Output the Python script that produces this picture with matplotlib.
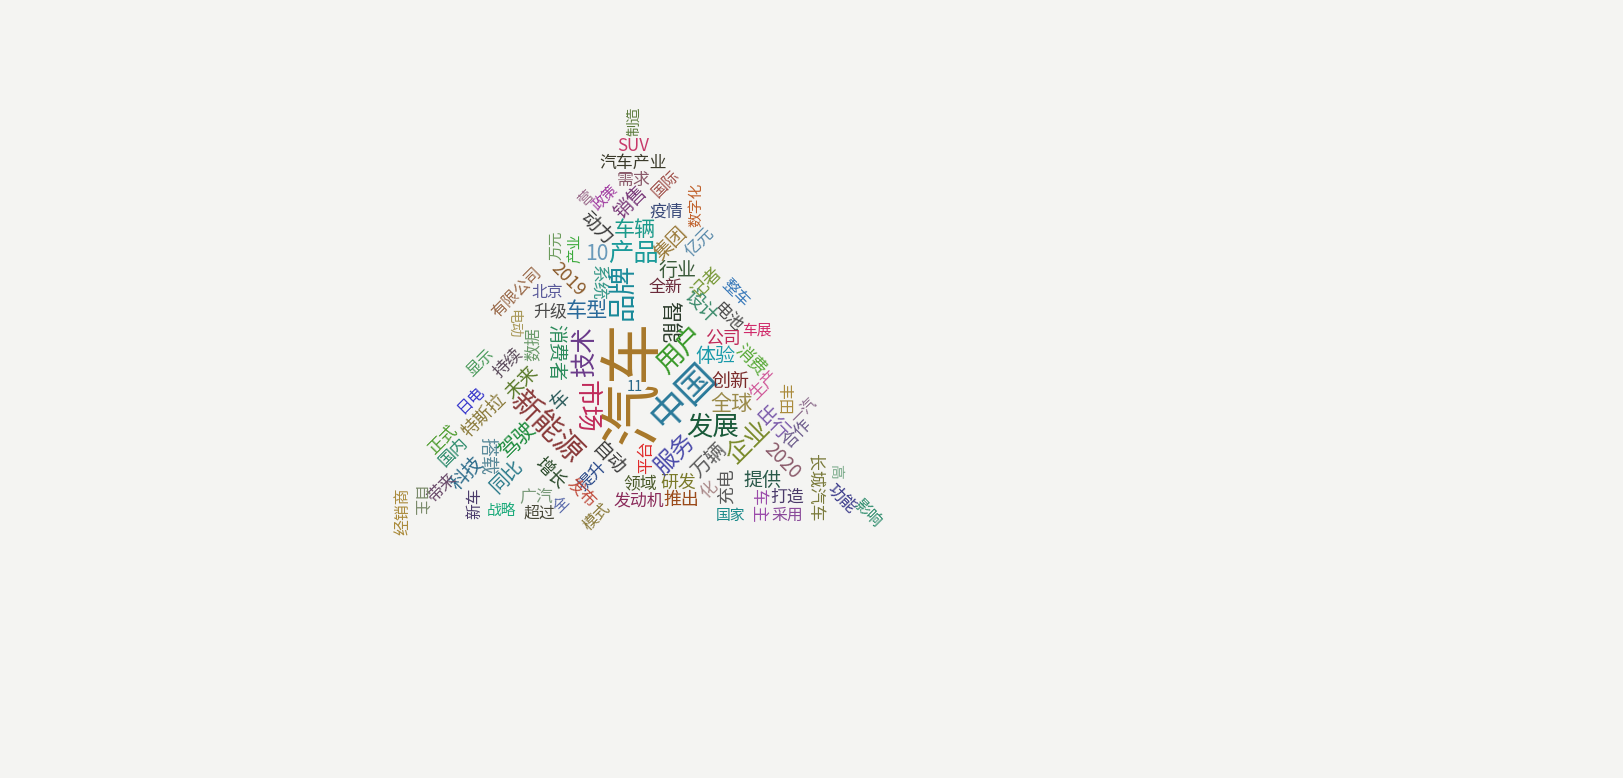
import matplotlib
matplotlib.use("Agg")
import matplotlib.pyplot as plt

plt.rcParams['font.family'] = ['Noto Sans CJK SC', 'DejaVu Sans']

# word cloud data: words and their weights (rendered glyph size in px)
words = ["制造", "SUV", "汽车产业", "需求", "国际", "数字化", "疫情", "销售", "政策", "营",
         "动力", "车辆", "集团", "亿元", "万元", "产业", "10", "产品", "2019", "系统",
         "品牌", "行业", "全新", "记者", "整车", "有限公司", "北京", "升级", "车型", "智能",
         "设计", "电池", "车展", "公司", "体验", "消费", "用户", "汽车", "11", "中国",
         "发展", "创新", "全球", "生产", "丰田", "一汽", "出行", "合作", "企业", "2020",
         "万辆", "长城汽车", "高", "功能", "影响", "打造", "采用", "车主", "提供", "国家",
         "充电", "化", "研发", "推出", "发动机", "领域", "平台", "服务", "自动", "提升",
         "发布", "模式", "增长", "全", "广汽", "超过", "战略", "新车", "同比", "科技",
         "带来", "自主", "经销商", "国内", "正式", "搭载", "驾驶", "新能源", "市场", "技术",
         "消费者", "数据", "电动", "持续", "显示", "未来", "车", "日电", "特斯拉"]
weights = [14, 16, 16, 16, 15, 14, 16, 18, 14, 14,
           18, 20, 18, 16, 14, 14, 20, 24, 17, 17,
           27, 18, 16, 17, 15, 15, 15, 16, 20, 20,
           18, 16, 14, 17, 19, 17, 26, 59, 14, 36,
           25, 18, 20, 16, 15, 14, 18, 16, 24, 18,
           19, 16, 14, 16, 15, 16, 15, 16, 18, 14,
           17, 16, 17, 17, 16, 16, 16, 22, 18, 16,
           16, 15, 17, 15, 16, 15, 14, 15, 18, 18,
           16, 15, 15, 16, 16, 18, 20, 28, 25, 24,
           18, 16, 14, 16, 15, 18, 18, 15, 17]

# layout produced by the cloud (pixel position, rotation, colour)
layout_x = [634, 633, 633, 634, 666, 696, 666, 630, 605, 586,
            597, 635, 671, 700, 556, 575, 597, 633, 568, 598,
            624, 678, 665, 707, 735, 517, 547, 550, 587, 669,
            701, 728, 757, 723, 715, 751, 680, 634, 635, 684,
            713, 730, 732, 764, 784, 804, 772, 797, 748, 782,
            709, 815, 835, 842, 867, 787, 787, 758, 762, 731,
            727, 709, 678, 681, 639, 640, 646, 674, 609, 592,
            582, 597, 550, 561, 536, 539, 502, 475, 507, 467,
            442, 418, 403, 453, 443, 487, 517, 546, 586, 585,
            556, 533, 513, 508, 481, 521, 560, 471, 484]
layout_y = [121, 146, 163, 180, 184, 205, 212, 202, 198, 198,
            229, 230, 243, 243, 245, 248, 254, 254, 280, 283,
            291, 270, 287, 283, 293, 292, 292, 311, 311, 322,
            306, 318, 331, 339, 356, 360, 350, 382, 387, 397,
            427, 381, 404, 385, 399, 411, 423, 434, 442, 461,
            461, 488, 471, 499, 513, 497, 515, 506, 480, 516,
            486, 490, 483, 500, 500, 483, 457, 454, 459, 476,
            492, 517, 473, 504, 497, 513, 511, 503, 476, 473,
            488, 502, 511, 452, 440, 456, 440, 428, 406, 352,
            352, 344, 324, 362, 363, 382, 400, 400, 416]
layout_rot = [90, 0, 0, 0, 45, 90, 0, 45, 45, 45,
              -45, 0, 45, 45, 90, 90, 0, 0, -45, -90,
              90, 0, 0, 45, -45, 45, 0, 0, 0, -90,
              -45, -45, 0, 0, 0, -45, 45, 90, 0, 45,
              0, 0, 0, 45, -90, 45, -45, 45, 45, -45,
              45, -90, -90, -45, -45, 0, 0, -90, 0, 0,
              90, 45, 0, 0, 0, 0, 90, 45, -45, 45,
              -45, 45, -45, 45, 0, 0, 0, 90, 45, 45,
              45, -90, 90, 45, 45, -90, 45, -45, -90, 90,
              -90, 90, -90, 45, 45, 45, 45, 45, 45]
layout_col = ["#5a7a3a", "#c83a6a", "#3a3a2a", "#8a5a6a", "#a0504a", "#c0602a", "#3a4a7a", "#7a3a7a", "#a03aa0", "#9a6a8a",
              "#3a3a3a", "#1a9a8a", "#9a7a3a", "#5a8aaa", "#6a9a5a", "#3aaa3a", "#6a9aba", "#1a9a9a", "#8a5a2a", "#3a9a8a",
              "#1a8a9a", "#3a5a3a", "#6a2a3a", "#7a9a3a", "#3a7aba", "#9a6a4a", "#5a5a9a", "#4a4a4a", "#2a6a9a", "#2a3a2a",
              "#3a8a6a", "#4a4a4a", "#d02a6a", "#c02a5a", "#1a9aaa", "#5aaa3a", "#3a9a2a", "#a8782a", "#2a6a8a", "#2a7a9a",
              "#1a5a3a", "#7a2a2a", "#9a8a4a", "#d05a9a", "#aa8a3a", "#8a6a8a", "#7a5aaa", "#6a5a8a", "#7a8a2a", "#8a5a6a",
              "#5a5a5a", "#7a7a3a", "#7aaa8a", "#3a3a8a", "#2a8a6a", "#4a3a6a", "#8a4a9a", "#9a4aaa", "#2a5a4a", "#1a8a8a",
              "#5a5a5a", "#aa8a8a", "#7a7a2a", "#9a4a1a", "#8a2a5a", "#4a5a2a", "#e02a2a", "#4a4aaa", "#3a3a3a", "#2a4a8a",
              "#c04a3a", "#8a7a3a", "#2a4a2a", "#5a6aaa", "#7a9a7a", "#4a4a3a", "#1aaa7a", "#4a3a6a", "#2a7a8a", "#2a6a8a",
              "#6a4a6a", "#7a8a6a", "#aa8a3a", "#2a8a6a", "#4a9a2a", "#5a8a9a", "#1a8a3a", "#8a3a3a", "#c02a5a", "#6a3a8a",
              "#2a8a5a", "#6a9a6a", "#aa9a5a", "#5a4a5a", "#4a9a5a", "#5a7a2a", "#2a5a5a", "#3a3acc", "#8a7a3a"]

W, H = 1624, 778
fig = plt.figure(figsize=(W / 100, H / 100), dpi=100)
fig.patch.set_facecolor("#f4f4f2")
ax = fig.add_axes([0, 0, 1, 1])
ax.set_xlim(0, W)
ax.set_ylim(H, 0)
ax.axis("off")

for w, s, x, y, r, c in zip(words, weights, layout_x, layout_y, layout_rot, layout_col):
    ax.text(x, y, w, fontsize=s * 0.76, rotation=r, rotation_mode="anchor",
            ha="center", va="center", color=c)

fig.savefig("out.png", dpi=100, facecolor=fig.get_facecolor())
